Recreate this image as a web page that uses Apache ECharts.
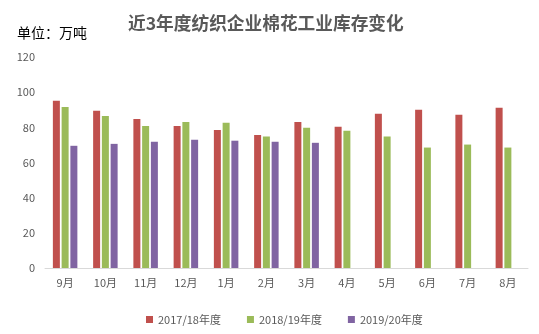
<!DOCTYPE html>
<html><head><meta charset="utf-8">
<script src="https://cdn.jsdelivr.net/npm/echarts@6/dist/echarts.min.js"></script>
<style>html,body{margin:0;padding:0;background:#fff}#c{width:539px;height:334px}</style>
</head><body><div id="c"></div>
<script>
const categories = ['9月','10月','11月','12月','1月','2月','3月','4月','5月','6月','7月','8月'];
const seriesNames = ['2017/18年度','2018/19年度','2019/20年度'];
const s2017 = [95.1, 89.4, 84.8, 80.8, 78.5, 75.7, 83.1, 80.3, 87.7, 90.0, 87.1, 91.2];
const s2018 = [91.6, 86.5, 80.8, 83.1, 82.6, 74.8, 79.7, 78.0, 74.8, 68.5, 70.2, 68.5];
const s2019 = [69.5, 70.6, 71.8, 73.0, 72.4, 71.8, 71.2, null, null, null, null, null];
const yTicks = [0, 20, 40, 60, 80, 100, 120];
const colors = ['#C0504D', '#9BBB59', '#8064A2'];
const font = '"Microsoft YaHei","Noto Sans CJK SC",sans-serif';

const chart = echarts.init(document.getElementById('c'));
chart.setOption({
  animation: false,
  color: colors,
  title: [{
    text: '近3年度纺织企业棉花工业库存变化',
    left: 123, top: 9,
    textStyle: {fontSize: 17.7, fontWeight: 'bold', color: '#595959', fontFamily: font}
  }, {
    text: '单位：万吨', left: 12, top: 21,
    textStyle: {fontSize: 14, fontWeight: 'normal', color: '#000', fontFamily: font}
  }],
  legend: {
    bottom: 4, left: 141, itemWidth: 7, itemHeight: 7, itemGap: 26,
    icon: 'rect',
    textStyle: {fontSize: 11, color: '#595959', fontFamily: font},
    data: seriesNames
  },
  grid: {left: 45, right: 11, top: 57, bottom: 66},
  xAxis: {
    type: 'category', data: categories,
    axisLine: {lineStyle: {color: '#D9D9D9', width: 1}},
    axisTick: {show: false},
    axisLabel: {fontSize: 11, color: '#595959', margin: 9, fontFamily: font}
  },
  yAxis: {
    type: 'value', min: yTicks[0], max: yTicks[yTicks.length - 1], interval: 20,
    splitLine: {show: false},
    axisLine: {show: false}, axisTick: {show: false},
    axisLabel: {fontSize: 11, color: '#595959', margin: 10, fontFamily: font}
  },
  series: [
    {name: seriesNames[0], type: 'bar', data: s2017, barWidth: 7, barGap: '25%'},
    {name: seriesNames[1], type: 'bar', data: s2018, barWidth: 7, barGap: '25%'},
    {name: seriesNames[2], type: 'bar', data: s2019, barWidth: 7, barGap: '25%'}
  ]
});
</script></body></html>
